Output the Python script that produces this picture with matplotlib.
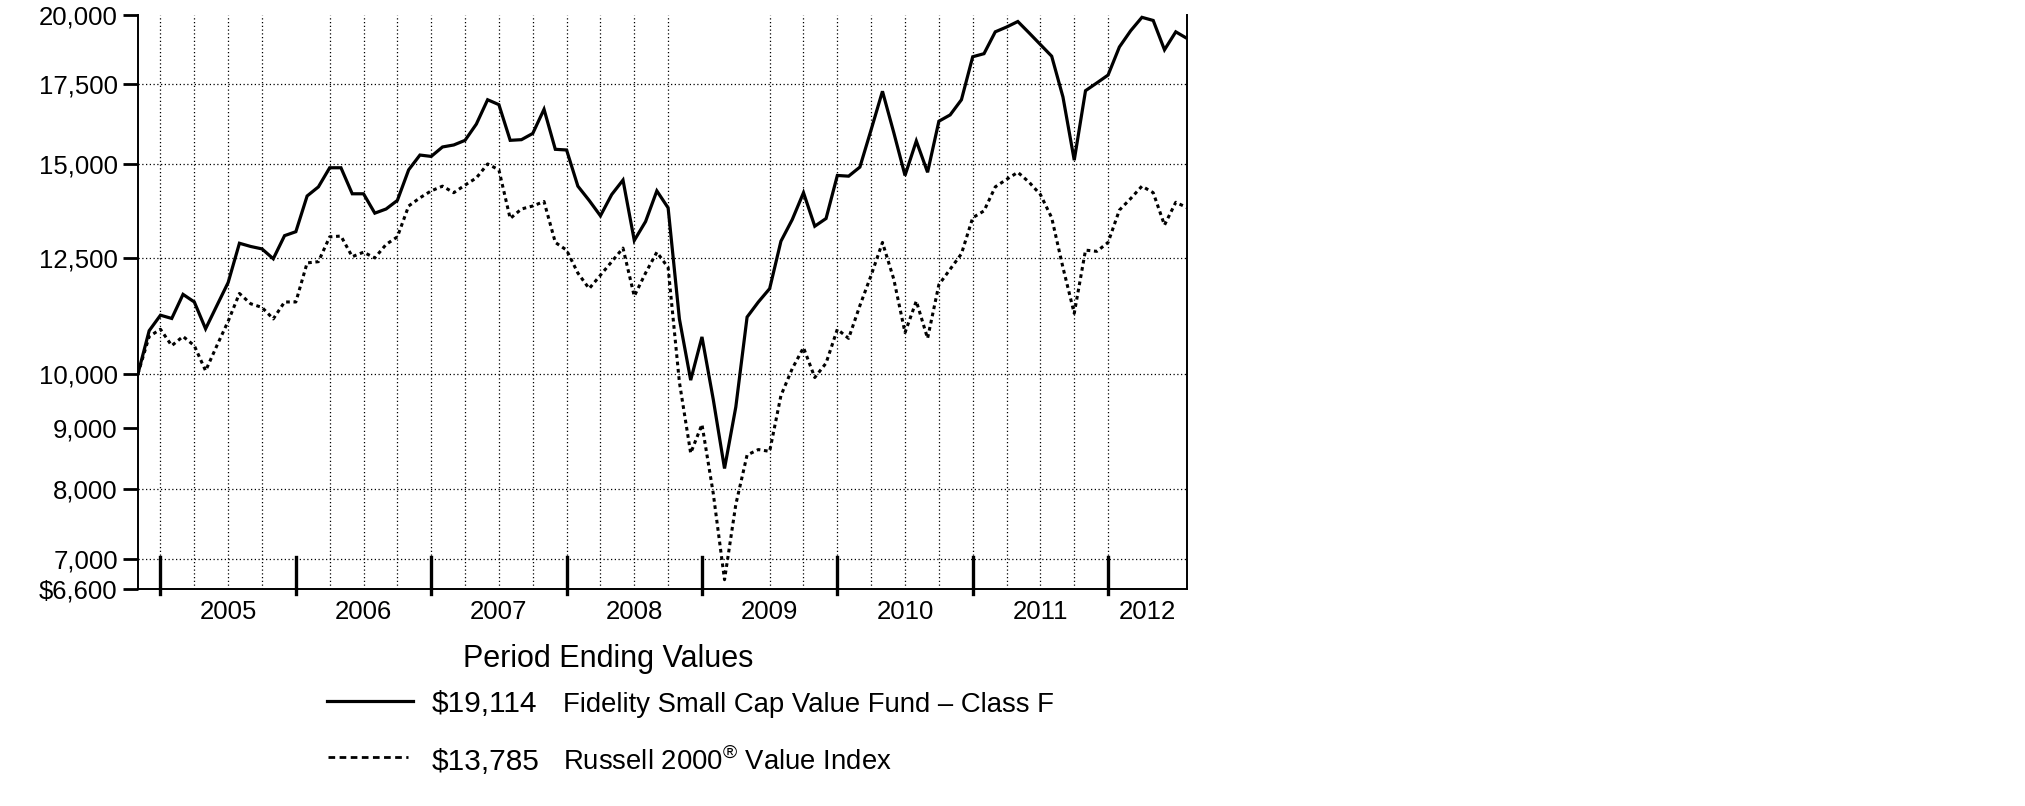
import numpy as np
import matplotlib
matplotlib.use("Agg")
import matplotlib.pyplot as plt

plt.rcParams['font.family'] = ['Liberation Sans', 'DejaVu Sans']
plt.rcParams['mathtext.fontset'] = 'custom'
plt.rcParams['mathtext.rm'] = 'Liberation Sans'

# month-end values, Oct 2004 .. Jul 2012 (hypothetical $10,000 investment)
fund = [10000, 10870, 11200, 11130, 11660, 11490, 10910, 11410, 11930, 12870,
        12790, 12730, 12490, 13060, 13160, 14100, 14350, 14890, 14890, 14160,
        14160, 13640, 13750, 13980, 14830, 15260, 15220, 15500, 15560, 15700,
        16200, 16980, 16820, 15700, 15720, 15910, 16670, 15430, 15410, 14370,
        13980, 13570, 14140, 14540, 12940, 13420, 14240, 13780, 11120, 9880,
        10740, 9520, 8330, 9380, 11160, 11490, 11790, 12920, 13470, 14190,
        13300, 13500, 14670, 14650, 14910, 16030, 17260, 15940, 14670, 15680,
        14760, 16290, 16490, 16980, 18450, 18560, 19360, 19540, 19750, 19320,
        18890, 18470, 17070, 15110, 17280, 17540, 17810, 18800, 19400, 19910,
        19790, 18700, 19360, 19114]
index = [10000, 10750, 10900, 10560, 10750, 10560, 10060, 10560, 11070, 11680,
         11450, 11370, 11120, 11490, 11490, 12390, 12420, 13030, 13050, 12540,
         12650, 12510, 12840, 13030, 13830, 14050, 14240, 14370, 14190, 14400,
         14600, 15000, 14830, 13500, 13750, 13830, 13950, 12890, 12700, 12150,
         11790, 12100, 12420, 12750, 11620, 12150, 12650, 12280, 9840, 8580,
         9070, 7940, 6720, 7770, 8550, 8640, 8610, 9590, 10100, 10520,
         9930, 10210, 10900, 10710, 11410, 12100, 12890, 12010, 10830, 11510,
         10710, 11880, 12240, 12610, 13520, 13700, 14350, 14560, 14760, 14480,
         14140, 13520, 12280, 11240, 12700, 12670, 12890, 13720, 14030, 14370,
         14190, 13330, 13930, 13785]

years = ['2005', '2006', '2007', '2008', '2009', '2010', '2011', '2012']
ytick_vals = [6600, 7000, 8000, 9000, 10000, 12500, 15000, 17500, 20000]
ytick_labels = ['$6,600', '7,000', '8,000', '9,000', '10,000', '12,500',
                '15,000', '17,500', '20,000']
hgrid_vals = [7000, 8000, 10000, 12500, 15000, 17500]
fund_end = '$19,114'
index_end = '$13,785'
fund_name = 'Fidelity Small Cap Value Fund \u2013 Class F'
index_name = 'Russell 2000$^{\\mathregular{\u00ae}}$ Value Index'

months = np.arange(len(fund))
year_starts = np.arange(2, len(fund), 12)          # Dec 31 of prior year
year_mids = [s + 6 if s + 12 < len(fund) else (s + len(fund) - 1) / 2
             for s in year_starts]
quarters = [q for q in range(2, len(fund), 3) if q not in (14, 50, 53, 89, 92)]

fig = plt.figure(figsize=(20.25, 8.06), dpi=100)
ax = fig.add_axes([0.0681, 0.2692, 0.5181, 0.7122])

ax.set_yscale('log')
ax.set_xlim(0, len(fund) - 1)
ax.set_ylim(6600, 20000)

# grid
for q in quarters:
    ax.axvline(q, color='black', lw=0.9, ls=(0, (1, 2)), zorder=1)
for v in hgrid_vals:
    ax.axhline(v, color='black', lw=0.9, ls=(0, (1, 2)), zorder=1)

ax.plot(months, fund, color='black', lw=2.3, solid_joinstyle='miter', zorder=3)
ax.plot(months, index, color='black', lw=2.2, ls=(0, (1.2, 1.2)), zorder=3)

# year separator ticks
for s in year_starts:
    ax.axvline(s, ymin=-0.0087, ymax=0.0557, color='black', lw=2.4,
               clip_on=False, zorder=4)

ax.yaxis.set_minor_locator(matplotlib.ticker.NullLocator())
ax.set_yticks(ytick_vals)
ax.set_yticklabels(ytick_labels)
ax.tick_params(axis='y', which='major', length=11, width=2, pad=3.5,
               labelsize=18.5, direction='out')

ax.set_xticks([])
ax.set_xticks(year_mids, minor=True)
ax.set_xticklabels(years, minor=True)
ax.tick_params(axis='x', which='minor', length=0, pad=8, labelsize=18.5)

ax.spines['top'].set_visible(False)
for side in ('left', 'bottom', 'right'):
    ax.spines[side].set_linewidth(1.4)

# legend block
fig.text(0.3004, 0.1725, 'Period Ending Values', ha='center', va='baseline',
         fontsize=22)
fig.add_artist(plt.Line2D([0.1613, 0.204], [0.1303, 0.1303], color='black', lw=2.3))
fig.add_artist(plt.Line2D([0.162, 0.2015], [0.0612, 0.0612], color='black', lw=2.0,
                          ls=(0, (2.4, 1.6))))
fig.text(0.2132, 0.1170, fund_end, ha='left', va='baseline', fontsize=21.5)
fig.text(0.2132, 0.0447, index_end, ha='left', va='baseline', fontsize=21.5)
fig.text(0.2779, 0.1170, fund_name, ha='left', va='baseline', fontsize=19.8)
fig.text(0.2779, 0.0447, index_name, ha='left', va='baseline', fontsize=19.8)

fig.savefig('out.png', dpi=100, facecolor='white')
